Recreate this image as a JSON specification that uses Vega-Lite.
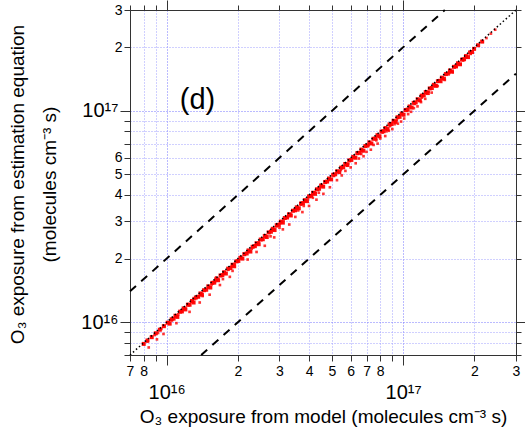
{
  "$schema": "https://vega.github.io/schema/vega-lite/v6.json",
  "width": 386,
  "height": 345,
  "autosize": {"type": "none"},
  "padding": {"left": 130, "top": 10, "right": 9, "bottom": 77},
  "background": "white",
  "config": {
    "font": "Liberation Sans",
    "view": {"stroke": "#333", "strokeWidth": 1},
    "axis": {"domainColor": "#333", "tickColor": "#333", "labelColor": "#000", "titleColor": "#000", "labelFont": "Liberation Sans", "titleFont": "Liberation Sans", "titleFontWeight": "normal"}
  },
  "resolve": {"axis": {"x": "independent", "y": "independent"}},
  "datasets": {
    "band": [
      {"x":8.0e15,"y":7.9e15},{"x":8.3e15,"y":8.2e15},{"x":8.65e15,"y":8.5e15},{"x":9.0e15,"y":8.87e15},{"x":9.36e15,"y":9.22e15},{"x":9.73e15,"y":9.58e15},{"x":1.01e16,"y":9.95e15},{"x":1.05e16,"y":1.033e16},{"x":1.09e16,"y":1.074e16},{"x":1.14e16,"y":1.122e16},{"x":1.18e16,"y":1.163e16},{"x":1.23e16,"y":1.211e16},{"x":1.28e16,"y":1.261e16},{"x":1.33e16,"y":1.31e16},{"x":1.39e16,"y":1.369e16},{"x":1.44e16,"y":1.418e16},{"x":1.50e16,"y":1.478e16},{"x":1.56e16,"y":1.536e16},{"x":1.62e16,"y":1.596e16},{"x":1.69e16,"y":1.664e16},{"x":1.75e16,"y":1.724e16},{"x":1.82e16,"y":1.793e16},{"x":1.90e16,"y":1.871e16},{"x":1.97e16,"y":1.94e16},
      {"x":2.05e16,"y":2.019e16},{"x":2.13e16,"y":2.098e16},{"x":2.22e16,"y":2.187e16},{"x":2.31e16,"y":2.275e16},{"x":2.40e16,"y":2.364e16},{"x":2.50e16,"y":2.462e16},{"x":2.60e16,"y":2.561e16},{"x":2.70e16,"y":2.66e16},{"x":2.81e16,"y":2.768e16},{"x":2.92e16,"y":2.876e16},{"x":3.04e16,"y":2.994e16},{"x":3.16e16,"y":3.113e16},{"x":3.29e16,"y":3.241e16},{"x":3.42e16,"y":3.369e16},{"x":3.55e16,"y":3.497e16},{"x":3.70e16,"y":3.645e16},{"x":3.84e16,"y":3.782e16},{"x":4.00e16,"y":3.94e16},{"x":4.16e16,"y":4.098e16},{"x":4.32e16,"y":4.255e16},{"x":4.50e16,"y":4.433e16},{"x":4.68e16,"y":4.61e16},{"x":4.86e16,"y":4.787e16},
      {"x":5.06e16,"y":4.984e16},{"x":5.26e16,"y":5.181e16},{"x":5.47e16,"y":5.388e16},{"x":5.69e16,"y":5.605e16},{"x":5.92e16,"y":5.831e16},{"x":6.15e16,"y":6.058e16},{"x":6.40e16,"y":6.304e16},{"x":6.66e16,"y":6.56e16},{"x":6.92e16,"y":6.816e16},{"x":7.20e16,"y":7.092e16},{"x":7.49e16,"y":7.378e16},{"x":7.79e16,"y":7.673e16},{"x":8.10e16,"y":7.979e16},{"x":8.42e16,"y":8.294e16},{"x":8.76e16,"y":8.629e16},{"x":9.11e16,"y":8.973e16},{"x":9.47e16,"y":9.328e16},{"x":9.85e16,"y":9.702e16},
      {"x":1.024e17,"y":1.009e17},{"x":1.065e17,"y":1.049e17},{"x":1.108e17,"y":1.091e17},{"x":1.152e17,"y":1.135e17},{"x":1.198e17,"y":1.180e17},{"x":1.246e17,"y":1.227e17},{"x":1.296e17,"y":1.277e17},{"x":1.348e17,"y":1.328e17},{"x":1.402e17,"y":1.381e17},{"x":1.458e17,"y":1.436e17},{"x":1.516e17,"y":1.493e17},{"x":1.577e17,"y":1.553e17},{"x":1.640e17,"y":1.615e17},{"x":1.705e17,"y":1.679e17},{"x":1.774e17,"y":1.747e17},{"x":1.844e17,"y":1.816e17},{"x":1.918e17,"y":1.889e17},{"x":1.995e17,"y":1.965e17},{"x":2.075e17,"y":2.044e17},{"x":2.158e17,"y":2.126e17},
      {"x":1.03e16,"y":9.85e15},{"x":1.11e16,"y":1.06e16},{"x":1.20e16,"y":1.15e16},{"x":1.30e16,"y":1.24e16},{"x":1.41e16,"y":1.35e16},{"x":1.53e16,"y":1.46e16},{"x":1.65e16,"y":1.58e16},{"x":1.78e16,"y":1.70e16},{"x":1.93e16,"y":1.84e16},{"x":2.09e16,"y":2.00e16},{"x":2.26e16,"y":2.16e16},{"x":2.45e16,"y":2.34e16},{"x":2.65e16,"y":2.53e16},{"x":2.86e16,"y":2.73e16},{"x":3.10e16,"y":2.96e16},{"x":3.35e16,"y":3.20e16},{"x":3.62e16,"y":3.46e16},{"x":3.92e16,"y":3.74e16},{"x":4.24e16,"y":4.05e16},{"x":4.59e16,"y":4.38e16},{"x":4.96e16,"y":4.74e16},{"x":5.37e16,"y":5.13e16},{"x":5.81e16,"y":5.55e16},{"x":6.28e16,"y":6.00e16},{"x":6.79e16,"y":6.48e16},{"x":7.34e16,"y":7.01e16},{"x":7.94e16,"y":7.58e16},{"x":8.59e16,"y":8.20e16},{"x":9.29e16,"y":8.87e16},{"x":1.004e17,"y":9.59e16},{"x":1.086e17,"y":1.037e17},{"x":1.175e17,"y":1.122e17},{"x":1.271e17,"y":1.214e17},{"x":1.375e17,"y":1.313e17},{"x":1.487e17,"y":1.420e17},{"x":1.608e17,"y":1.536e17},{"x":1.739e17,"y":1.661e17},{"x":1.880e17,"y":1.796e17},
      {"x":1.07e16,"y":1.04e16},{"x":1.16e16,"y":1.125e16},{"x":1.25e16,"y":1.21e16},{"x":1.36e16,"y":1.32e16},{"x":1.47e16,"y":1.425e16},{"x":1.59e16,"y":1.54e16},{"x":1.72e16,"y":1.67e16},{"x":1.86e16,"y":1.805e16},{"x":2.01e16,"y":1.95e16},{"x":2.18e16,"y":2.115e16},{"x":2.36e16,"y":2.29e16},{"x":2.55e16,"y":2.47e16},{"x":2.76e16,"y":2.68e16},{"x":2.98e16,"y":2.89e16},{"x":3.23e16,"y":3.13e16},{"x":3.49e16,"y":3.385e16},{"x":3.77e16,"y":3.66e16},{"x":4.08e16,"y":3.96e16},{"x":4.41e16,"y":4.28e16},{"x":4.77e16,"y":4.63e16},{"x":5.16e16,"y":5.01e16},{"x":5.58e16,"y":5.41e16},{"x":6.04e16,"y":5.86e16},{"x":6.53e16,"y":6.33e16},{"x":7.06e16,"y":6.85e16},{"x":7.64e16,"y":7.41e16},{"x":8.26e16,"y":8.01e16},{"x":8.93e16,"y":8.66e16},{"x":9.66e16,"y":9.37e16},{"x":1.045e17,"y":1.014e17},{"x":1.130e17,"y":1.096e17},{"x":1.222e17,"y":1.185e17},{"x":1.322e17,"y":1.282e17},{"x":1.430e17,"y":1.387e17},{"x":1.546e17,"y":1.500e17},{"x":1.672e17,"y":1.622e17},{"x":1.809e17,"y":1.755e17},{"x":1.956e17,"y":1.897e17}
    ],
    "scatter": [
        {"x":8.0e15,"y":7.9e15},{"x":8.3e15,"y":8.1e15},{"x":8.6e15,"y":8.5e15},{"x":8.9e15,"y":8.7e15},{"x":9.2e15,"y":8.9e15},{"x":9.5e15,"y":9.3e15},{"x":9.8e15,"y":9.6e15},{"x":8.4e15,"y":7.6e15},{"x":9.1e15,"y":8.3e15},{"x":9.7e15,"y":8.8e15},
        {"x":1.02e16,"y":1.00e16},{"x":1.05e16,"y":1.02e16},{"x":1.09e16,"y":1.07e16},{"x":1.12e16,"y":1.09e16},{"x":1.16e16,"y":1.13e16},{"x":1.20e16,"y":1.17e16},{"x":1.24e16,"y":1.21e16},{"x":1.28e16,"y":1.25e16},{"x":1.32e16,"y":1.29e16},{"x":1.36e16,"y":1.32e16},{"x":1.40e16,"y":1.37e16},{"x":1.45e16,"y":1.41e16},{"x":1.50e16,"y":1.46e16},{"x":1.55e16,"y":1.51e16},{"x":1.60e16,"y":1.56e16},{"x":1.65e16,"y":1.61e16},{"x":1.70e16,"y":1.66e16},{"x":1.76e16,"y":1.71e16},{"x":1.82e16,"y":1.77e16},{"x":1.88e16,"y":1.83e16},{"x":1.94e16,"y":1.89e16},
        {"x":1.10e16,"y":0.99e16},{"x":1.25e16,"y":1.12e16},{"x":1.38e16,"y":1.24e16},{"x":1.52e16,"y":1.35e16},{"x":1.68e16,"y":1.50e16},{"x":1.85e16,"y":1.64e16},{"x":1.90e16,"y":1.75e16},{"x":1.42e16,"y":1.33e16},{"x":1.73e16,"y":1.60e16},{"x":1.30e16,"y":1.30e16},{"x":1.62e16,"y":1.63e16},
        {"x":2.00e16,"y":1.95e16},{"x":2.07e16,"y":2.02e16},{"x":2.14e16,"y":2.09e16},{"x":2.21e16,"y":2.15e16},{"x":2.29e16,"y":2.23e16},{"x":2.37e16,"y":2.31e16},{"x":2.45e16,"y":2.39e16},{"x":2.54e16,"y":2.47e16},{"x":2.63e16,"y":2.56e16},{"x":2.72e16,"y":2.65e16},{"x":2.81e16,"y":2.74e16},{"x":2.91e16,"y":2.84e16},{"x":3.01e16,"y":2.93e16},{"x":3.12e16,"y":3.04e16},{"x":3.23e16,"y":3.14e16},{"x":3.34e16,"y":3.25e16},{"x":3.46e16,"y":3.37e16},{"x":3.58e16,"y":3.49e16},{"x":3.70e16,"y":3.60e16},{"x":3.83e16,"y":3.73e16},{"x":3.96e16,"y":3.86e16},{"x":4.10e16,"y":3.99e16},{"x":4.24e16,"y":4.13e16},{"x":4.39e16,"y":4.27e16},{"x":4.54e16,"y":4.42e16},{"x":4.70e16,"y":4.57e16},{"x":4.86e16,"y":4.73e16},
        {"x":2.20e16,"y":1.98e16},{"x":2.40e16,"y":2.15e16},{"x":2.60e16,"y":2.30e16},{"x":2.85e16,"y":2.52e16},{"x":3.10e16,"y":2.75e16},{"x":3.30e16,"y":2.90e16},{"x":3.50e16,"y":3.15e16},{"x":3.75e16,"y":3.32e16},{"x":4.00e16,"y":3.55e16},{"x":4.30e16,"y":3.80e16},{"x":4.60e16,"y":4.05e16},{"x":4.90e16,"y":4.35e16},{"x":3.00e16,"y":2.80e16},{"x":3.80e16,"y":3.55e16},{"x":4.40e16,"y":4.10e16},{"x":2.75e16,"y":2.55e16},{"x":3.60e16,"y":3.38e16},{"x":4.15e16,"y":3.88e16},
        {"x":5.25e16,"y":4.70e16},{"x":5.50e16,"y":4.95e16},{"x":5.70e16,"y":5.20e16},{"x":6.00e16,"y":5.40e16},{"x":6.30e16,"y":5.65e16},{"x":6.50e16,"y":5.95e16},{"x":6.80e16,"y":6.10e16},{"x":7.00e16,"y":6.40e16},{"x":7.30e16,"y":6.55e16},{"x":7.50e16,"y":6.90e16},{"x":7.80e16,"y":7.00e16},{"x":8.00e16,"y":7.40e16},{"x":8.40e16,"y":7.60e16},{"x":8.70e16,"y":8.05e16},{"x":9.00e16,"y":8.20e16},{"x":9.50e16,"y":8.70e16},{"x":9.80e16,"y":8.90e16},{"x":5.80e16,"y":5.50e16},{"x":6.65e16,"y":6.25e16},{"x":7.70e16,"y":7.25e16},{"x":8.50e16,"y":8.00e16},{"x":9.20e16,"y":8.65e16},
        {"x":5.10e16,"y":4.92e16},{"x":5.45e16,"y":5.25e16},{"x":5.85e16,"y":5.63e16},{"x":6.25e16,"y":6.02e16},{"x":6.70e16,"y":6.45e16},{"x":7.15e16,"y":6.89e16},{"x":7.65e16,"y":7.37e16},{"x":8.20e16,"y":7.90e16},{"x":8.80e16,"y":8.47e16},{"x":9.40e16,"y":9.05e16},
        {"x":1.01e17,"y":0.920e17},{"x":1.05e17,"y":0.965e17},{"x":1.08e17,"y":0.990e17},{"x":1.11e17,"y":1.030e17},{"x":1.15e17,"y":1.050e17},{"x":1.19e17,"y":1.100e17},{"x":1.24e17,"y":1.140e17},{"x":1.32e17,"y":1.220e17},{"x":1.40e17,"y":1.310e17},{"x":1.50e17,"y":1.400e17},{"x":1.62e17,"y":1.520e17},{"x":1.75e17,"y":1.660e17},{"x":1.18e17,"y":1.115e17},{"x":1.45e17,"y":1.370e17},
        {"x":1.04e17,"y":1.000e17},{"x":1.12e17,"y":1.078e17},{"x":1.20e17,"y":1.155e17},{"x":1.28e17,"y":1.232e17},{"x":1.37e17,"y":1.318e17},{"x":1.47e17,"y":1.415e17},{"x":1.57e17,"y":1.512e17},{"x":1.68e17,"y":1.620e17},{"x":1.80e17,"y":1.735e17},{"x":1.93e17,"y":1.860e17},
        {"x":2.170e17,"y":2.125e17},{"x":2.250e17,"y":2.210e17},{"x":2.35e17,"y":2.32e17},{"x":2.45e17,"y":2.42e17}
    ]
  },
  "layer": [
    {
      "data": {"name": "band"},
      "mark": {"type": "point", "shape": "square", "filled": true, "size": 16, "color": "#ff0000", "opacity": 0.95},
      "encoding": {
        "x": {"field": "x", "type": "quantitative",
          "scale": {"type": "log", "domain": [7e15, 3e17], "nice": false},
          "axis": {
            "orient": "bottom",
            "values": [7e15, 8e15, 9e15, 1e16, 2e16, 3e16, 4e16, 5e16, 6e16, 7e16, 8e16, 9e16, 1e17, 2e17, 3e17],
            "labelExpr": "datum.value == 1e16 ? '10¹⁶' : datum.value == 1e17 ? '10¹⁷' : round(datum.value / (datum.value >= 1e17 ? 1e17 : datum.value >= 1e16 ? 1e16 : 1e15)) == 9 ? '' : '' + round(datum.value / (datum.value >= 1e17 ? 1e17 : datum.value >= 1e16 ? 1e16 : 1e15))",
            "labelOverlap": false, "labelBound": false, "labelFlush": false,
            "labelFontSize": {"condition": {"test": "datum.value == 1e16 || datum.value == 1e17", "value": 20}, "value": 14},
            "labelPadding": {"condition": {"test": "datum.value == 1e16 || datum.value == 1e17", "value": 17}, "value": 3},
            "tickSize": {"condition": {"test": "datum.value == 1e16 || datum.value == 1e17", "value": 10}, "value": 6},
            "grid": true,
            "gridColor": {"condition": {"test": "datum.value == 1e16 || datum.value == 1e17", "value": "#7777ff"}, "value": "#a0a0ff"},
            "gridDash": [1, 2],
            "gridWidth": 1,
            "title": "O₃ exposure from model (molecules cm⁻³ s)",
            "titleFontSize": 19,
            "titleBaseline": "middle",
            "titleY": 61
          }
        },
        "y": {"field": "y", "type": "quantitative",
          "scale": {"type": "log", "domain": [7e15, 3e17], "nice": false},
          "axis": {
            "orient": "left",
            "values": [7e15, 8e15, 9e15, 1e16, 2e16, 3e16, 4e16, 5e16, 6e16, 7e16, 8e16, 9e16, 1e17, 2e17, 3e17],
            "labelExpr": "datum.value == 1e16 ? '10¹⁶' : datum.value == 1e17 ? '10¹⁷' : round(datum.value / (datum.value >= 1e17 ? 1e17 : datum.value >= 1e16 ? 1e16 : 1e15)) >= 7 ? '' : '' + round(datum.value / (datum.value >= 1e17 ? 1e17 : datum.value >= 1e16 ? 1e16 : 1e15))",
            "labelOverlap": false, "labelBound": false, "labelFlush": false,
            "labelFontSize": {"condition": {"test": "datum.value == 1e16 || datum.value == 1e17", "value": 20}, "value": 14},
            "labelPadding": 2,
            "tickSize": {"condition": {"test": "datum.value == 1e16 || datum.value == 1e17", "value": 10}, "value": 6},
            "grid": true,
            "gridColor": {"condition": {"test": "datum.value == 1e16 || datum.value == 1e17", "value": "#7777ff"}, "value": "#a0a0ff"},
            "gridDash": [1, 2],
            "gridWidth": 1,
            "title": ["O₃ exposure from estimation equation", "(molecules cm⁻³ s)"],
            "titleFontSize": 19,
            "titleLineHeight": 32,
            "titleAngle": -90,
            "titleBaseline": "top",
            "titleAlign": "center",
            "titleX": -122,
            "titleY": 174
          }
        }
      }
    },
    {
      "data": {"name": "scatter"},
      "mark": {"type": "point", "shape": "square", "filled": true, "size": 7, "color": "#ff0000", "opacity": 0.8},
      "encoding": {
        "x": {"field": "x", "type": "quantitative", "axis": null},
        "y": {"field": "y", "type": "quantitative", "axis": null}
      }
    },
    {
      "data": {"values": [{"x": 7e15, "y": 7e15}, {"x": 3e17, "y": 3e17}]},
      "mark": {"type": "line", "color": "#000", "strokeWidth": 1.5, "strokeDash": [1.5, 2.5]},
      "encoding": {
        "x": {"field": "x", "type": "quantitative", "scale": {"type": "log", "domain": [7e15, 3e17], "nice": false},
          "axis": {"orient": "top", "values": [7e15, 8e15, 9e15, 1e16, 2e16, 3e16, 4e16, 5e16, 6e16, 7e16, 8e16, 9e16, 1e17, 2e17, 3e17], "labels": false, "grid": false, "title": null,
            "tickSize": {"condition": {"test": "datum.value == 1e16 || datum.value == 1e17", "value": 10}, "value": 5}}},
        "y": {"field": "y", "type": "quantitative", "scale": {"type": "log", "domain": [7e15, 3e17], "nice": false},
          "axis": {"orient": "right", "values": [7e15, 8e15, 9e15, 1e16, 2e16, 3e16, 4e16, 5e16, 6e16, 7e16, 8e16, 9e16, 1e17, 2e17, 3e17], "labels": false, "grid": false, "title": null,
            "tickSize": {"condition": {"test": "datum.value == 1e16 || datum.value == 1e17", "value": 9}, "value": 5}}}
      }
    },
    {
      "data": {"values": [{"x": 7e15, "y": 1.4e16}, {"x": 1.5e17, "y": 3e17}]},
      "mark": {"type": "line", "color": "#000", "strokeWidth": 2, "strokeDash": [8, 7]},
      "encoding": {
        "x": {"field": "x", "type": "quantitative", "axis": null},
        "y": {"field": "y", "type": "quantitative", "axis": null}
      }
    },
    {
      "data": {"values": [{"x": 1.4e16, "y": 7e15}, {"x": 3e17, "y": 1.5e17}]},
      "mark": {"type": "line", "color": "#000", "strokeWidth": 2, "strokeDash": [8, 7]},
      "encoding": {
        "x": {"field": "x", "type": "quantitative", "axis": null},
        "y": {"field": "y", "type": "quantitative", "axis": null}
      }
    },
    {
      "data": {"values": [{"x": 1.35e16, "y": 1.13e17, "label": "(d)"}]},
      "mark": {"type": "text", "fontSize": 29, "font": "Liberation Sans", "align": "center", "baseline": "middle", "color": "#000"},
      "encoding": {
        "x": {"field": "x", "type": "quantitative", "axis": null},
        "y": {"field": "y", "type": "quantitative", "axis": null},
        "text": {"field": "label"}
      }
    }
  ]
}
